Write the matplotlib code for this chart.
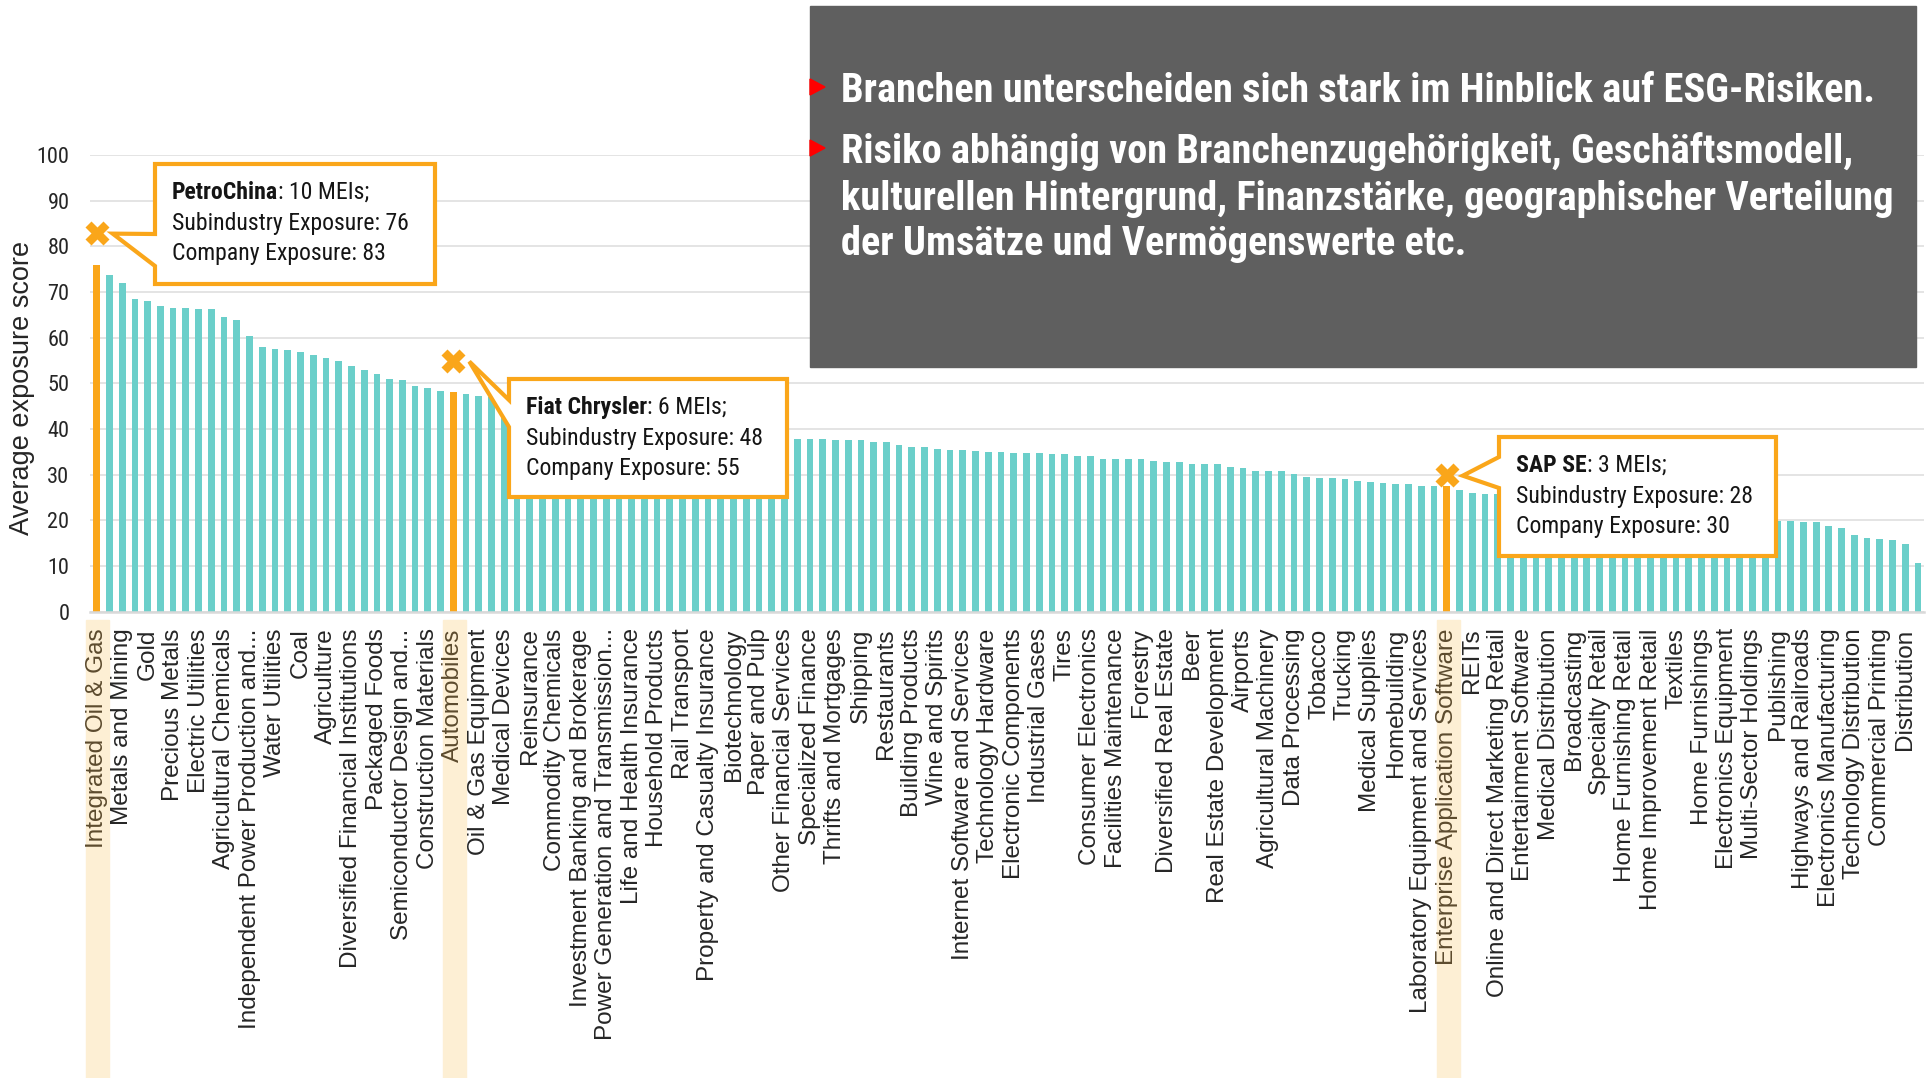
import matplotlib
matplotlib.use('Agg')
import matplotlib.pyplot as plt
import matplotlib.transforms as mtransforms
from matplotlib import font_manager
from matplotlib.patches import Polygon, Rectangle
import numpy as np

W, H = 1931, 1078

# every second category carries a label (Excel skipped the others)
labels = [
    'Integrated Oil & Gas', 'Metals and Mining', 'Gold', 'Precious Metals',
    'Electric Utilities', 'Agricultural Chemicals', 'Independent Power Production and...',
    'Water Utilities', 'Coal', 'Agriculture', 'Diversified Financial Institutions',
    'Packaged Foods', 'Semiconductor Design and...', 'Construction Materials',
    'Automobiles', 'Oil & Gas Equipment', 'Medical Devices', 'Reinsurance',
    'Commodity Chemicals', 'Investment Banking and Brokerage',
    'Power Generation and Transmission...', 'Life and Health Insurance',
    'Household Products', 'Rail Transport', 'Property and Casualty Insurance',
    'Biotechnology', 'Paper and Pulp', 'Other Financial Services', 'Specialized Finance',
    'Thrifts and Mortgages', 'Shipping', 'Restaurants', 'Building Products',
    'Wine and Spirits', 'Internet Software and Services', 'Technology Hardware',
    'Electronic Components', 'Industrial Gases', 'Tires', 'Consumer Electronics',
    'Facilities Maintenance', 'Forestry', 'Diversified Real Estate', 'Beer',
    'Real Estate Development', 'Airports', 'Agricultural Machinery', 'Data Processing',
    'Tobacco', 'Trucking', 'Medical Supplies', 'Homebuilding',
    'Laboratory Equipment and Services', 'Enterprise Application Software', 'REITs',
    'Online and Direct Marketing Retail', 'Entertainment Software', 'Medical Distribution',
    'Broadcasting', 'Specialty Retail', 'Home Furnishing Retail', 'Home Improvement Retail',
    'Textiles', 'Home Furnishings', 'Electronics Equipment', 'Multi-Sector Holdings',
    'Publishing', 'Highways and Railroads', 'Electronics Manufacturing',
    'Technology Distribution', 'Commercial Printing', 'Distribution',
]

scores = [
    76.0, 73.7, 72.0, 68.5, 68.0, 66.9, 66.6, 66.6, 66.3, 66.3,
    64.5, 63.9, 60.4, 58.0, 57.5, 57.2, 56.9, 56.1, 55.6, 55.0,
    53.9, 52.9, 52.1, 51.0, 50.7, 49.4, 48.9, 48.4, 48.0, 47.6,
    47.3, 47.0, 46.6, 45.8, 45.0, 44.3, 43.6, 43.0, 42.3, 41.9,
    41.4, 41.0, 40.6, 40.2, 39.9, 39.6, 39.4, 39.1, 38.9, 38.7,
    38.5, 38.4, 38.2, 38.1, 38.0, 37.9, 37.9, 37.9, 37.6, 37.6,
    37.6, 37.1, 37.1, 36.5, 36.0, 36.0, 35.7, 35.4, 35.4, 35.2,
    34.9, 34.9, 34.7, 34.7, 34.7, 34.5, 34.5, 34.2, 34.2, 33.4,
    33.4, 33.4, 33.4, 33.1, 32.8, 32.8, 32.3, 32.3, 32.3, 31.7,
    31.4, 30.9, 30.9, 30.7, 30.1, 29.6, 29.3, 29.3, 29.0, 28.7,
    28.5, 28.2, 27.9, 27.9, 27.6, 27.6, 27.6, 26.6, 26.1, 25.8,
    25.8, 25.6, 25.3, 25.0, 24.7, 24.4, 24.1, 23.8, 23.5, 23.3,
    23.0, 22.7, 22.4, 22.1, 21.8, 21.5, 21.2, 20.9, 20.6, 20.3,
    20.1, 20.0, 19.9, 19.9, 19.6, 19.6, 18.8, 18.3, 16.9, 16.2,
    15.9, 15.6, 14.8, 10.6,
]

companies = ['PetroChina', 'Fiat Chrysler', 'SAP SE']
company_idx = [0, 28, 106]
meis = [10, 6, 3]
sub_exposure = [76, 48, 28]
company_exposure = [83, 55, 30]

bullets = [
    'Branchen unterscheiden sich stark im Hinblick auf ESG-Risiken.',
    'Risiko abhängig von Branchenzugehörigkeit, Geschäftsmodell,',
    'kulturellen Hintergrund, Finanzstärke, geographischer Verteilung',
    'der Umsätze und Vermögenswerte etc.',
]

TEAL = '#6bcfca'
ORANGE = '#faa61a'
BAND = '#fdefd4'
GREY_BOX = '#5f5f5f'
TXT = '#262626'

# pick a narrow font for the callouts and the grey box
flist = font_manager.fontManager.ttflist
names = {f.name for f in flist}
cond = {'family': 'DejaVu Sans', 'stretch': 'normal'}
for cand in ['Roboto Condensed', 'Liberation Sans Narrow', 'Open Sans Condensed',
             'DejaVu Sans Condensed']:
    if cand in names:
        cond = {'family': cand, 'stretch': 'normal'}
        break
else:
    if any(f.name == 'DejaVu Sans' and f.stretch == 'condensed' for f in flist):
        cond = {'family': 'DejaVu Sans', 'stretch': 'condensed'}
    elif 'Roboto' in names:
        cond = {'family': 'Roboto', 'stretch': 'normal'}


def fx(x):
    return x / W


def fy(y):
    return 1 - y / H


fig = plt.figure(figsize=(W / 100, H / 100), dpi=100)
fig.patch.set_facecolor('white')
x0_ax, x1_ax, y0_ax, y1_ax = 90.3, 1924.4, 611.7, 155.0
ax = fig.add_axes([fx(x0_ax), fy(y0_ax), (x1_ax - x0_ax) / W, (y0_ax - y1_ax) / H])

x = np.arange(len(scores))
colors = [ORANGE if i in company_idx else TEAL for i in x]
ax.bar(x, scores, width=0.53, color=colors, zorder=2)
ax.set_xlim(-0.5, len(scores) - 0.5)
ax.set_ylim(0, 100)
ax.set_yticks(range(0, 101, 10))
ax.grid(axis='y', color='#e2e2e2', lw=1.3, zorder=0)
ax.set_axisbelow(True)
for s in ['top', 'right', 'left']:
    ax.spines[s].set_visible(False)
ax.spines['bottom'].set_color('#d9d9d9')
ax.spines['bottom'].set_linewidth(1.8)
ax.tick_params(length=0)
ax.tick_params(axis='y', pad=15, labelcolor=TXT)
for t in ax.get_yticklabels():
    t.set_fontfamily(cond['family'])
    t.set_fontstretch(cond['stretch'])
    t.set_fontsize(16)

ax.set_xticks(x[::2])
ax.set_xticklabels(labels, rotation=90, fontsize=17.5, family='Liberation Sans',
                   color=TXT, va='top', ha='center')
ax.tick_params(axis='x', pad=12)
for k, t in enumerate(ax.get_xticklabels()):
    if 2 * k in company_idx:
        t.set_color('#5c4b2e')

# light bands behind the highlighted category labels
band_tr = mtransforms.blended_transform_factory(ax.transData, fig.transFigure)
for i in company_idx:
    ax.add_patch(Rectangle((i - 0.8, 0), 1.8, fy(620), transform=band_tr,
                           color=BAND, clip_on=False, zorder=0.5))

fig.text(fx(22), fy(388), 'Average exposure score', rotation=90, va='center',
         ha='center', fontsize=19.5, family='Liberation Sans', color=TXT)

# company markers
ax.plot(company_idx, company_exposure, 'X', ms=17, color=ORANGE, mec='none',
        clip_on=False, zorder=5)

fig.canvas.draw()
r = fig.canvas.get_renderer()

# callout boxes: left, top, right, bottom, wedge base top/bottom (pixels)
boxes = [(155, 164, 435, 284, 234, 266),
         (509, 379, 787, 497, 400, 427),
         (1499, 437, 1776, 556, 457, 488)]

probe = fig.text(0, 0, 'Subindustry Exposure: 76', fontsize=17, family=cond['family'],
                 stretch=cond['stretch'])
fs = 17 * 237 / probe.get_window_extent(r).width
probe.remove()

for k in range(3):
    bx0, by0, bx1, by1, ya, yb = boxes[k]
    mx, my = ax.transData.transform((company_idx[k], company_exposure[k]))
    tipx, tipy = mx + 16, H - my + 1
    pts = [(bx0, by0), (bx1, by0), (bx1, by1), (bx0, by1), (bx0, yb), (tipx, tipy), (bx0, ya)]
    fig.add_artist(Polygon([(fx(a), fy(b)) for a, b in pts], closed=True,
                           transform=fig.transFigure, facecolor='white',
                           edgecolor=ORANGE, lw=3, joinstyle='miter', zorder=6))
    kw = dict(fontsize=fs, family=cond['family'], stretch=cond['stretch'],
              color='#151515', va='baseline', ha='left', zorder=7)
    tb = fig.text(fx(bx0 + 17), fy(by0 + 35), companies[k], fontweight='bold', **kw)
    bb = tb.get_window_extent(r)
    fig.text(bb.x1 / W, fy(by0 + 35), f': {meis[k]} MEIs;', **kw)
    fig.text(fx(bx0 + 17), fy(by0 + 66), f'Subindustry Exposure: {sub_exposure[k]}', **kw)
    fig.text(fx(bx0 + 17), fy(by0 + 96), f'Company Exposure: {company_exposure[k]}', **kw)

# grey message box
fig.add_artist(Rectangle((fx(810), fy(367)), (1916 - 810) / W, (367 - 6) / H,
                         transform=fig.transFigure, color=GREY_BOX, zorder=8))
probe = fig.text(0, 0, bullets[2], fontsize=28, fontweight='bold', family=cond['family'],
                 stretch=cond['stretch'])
fs2 = 28 * 1053 / probe.get_window_extent(r).width
probe.remove()
for txt, yb_ in zip(bullets, [101.7, 163, 210, 255]):
    fig.text(fx(841), fy(yb_), txt, fontsize=fs2, fontweight='bold', color='white',
             family=cond['family'], stretch=cond['stretch'], va='baseline', ha='left',
             zorder=9)
for yc in [87, 148]:
    tri = [(810, yc - 8), (825, yc), (810, yc + 8)]
    fig.add_artist(Polygon([(fx(a), fy(b)) for a, b in tri], closed=True,
                           transform=fig.transFigure, color='#ff0000', zorder=9))

fig.savefig('out.png', dpi=100)
